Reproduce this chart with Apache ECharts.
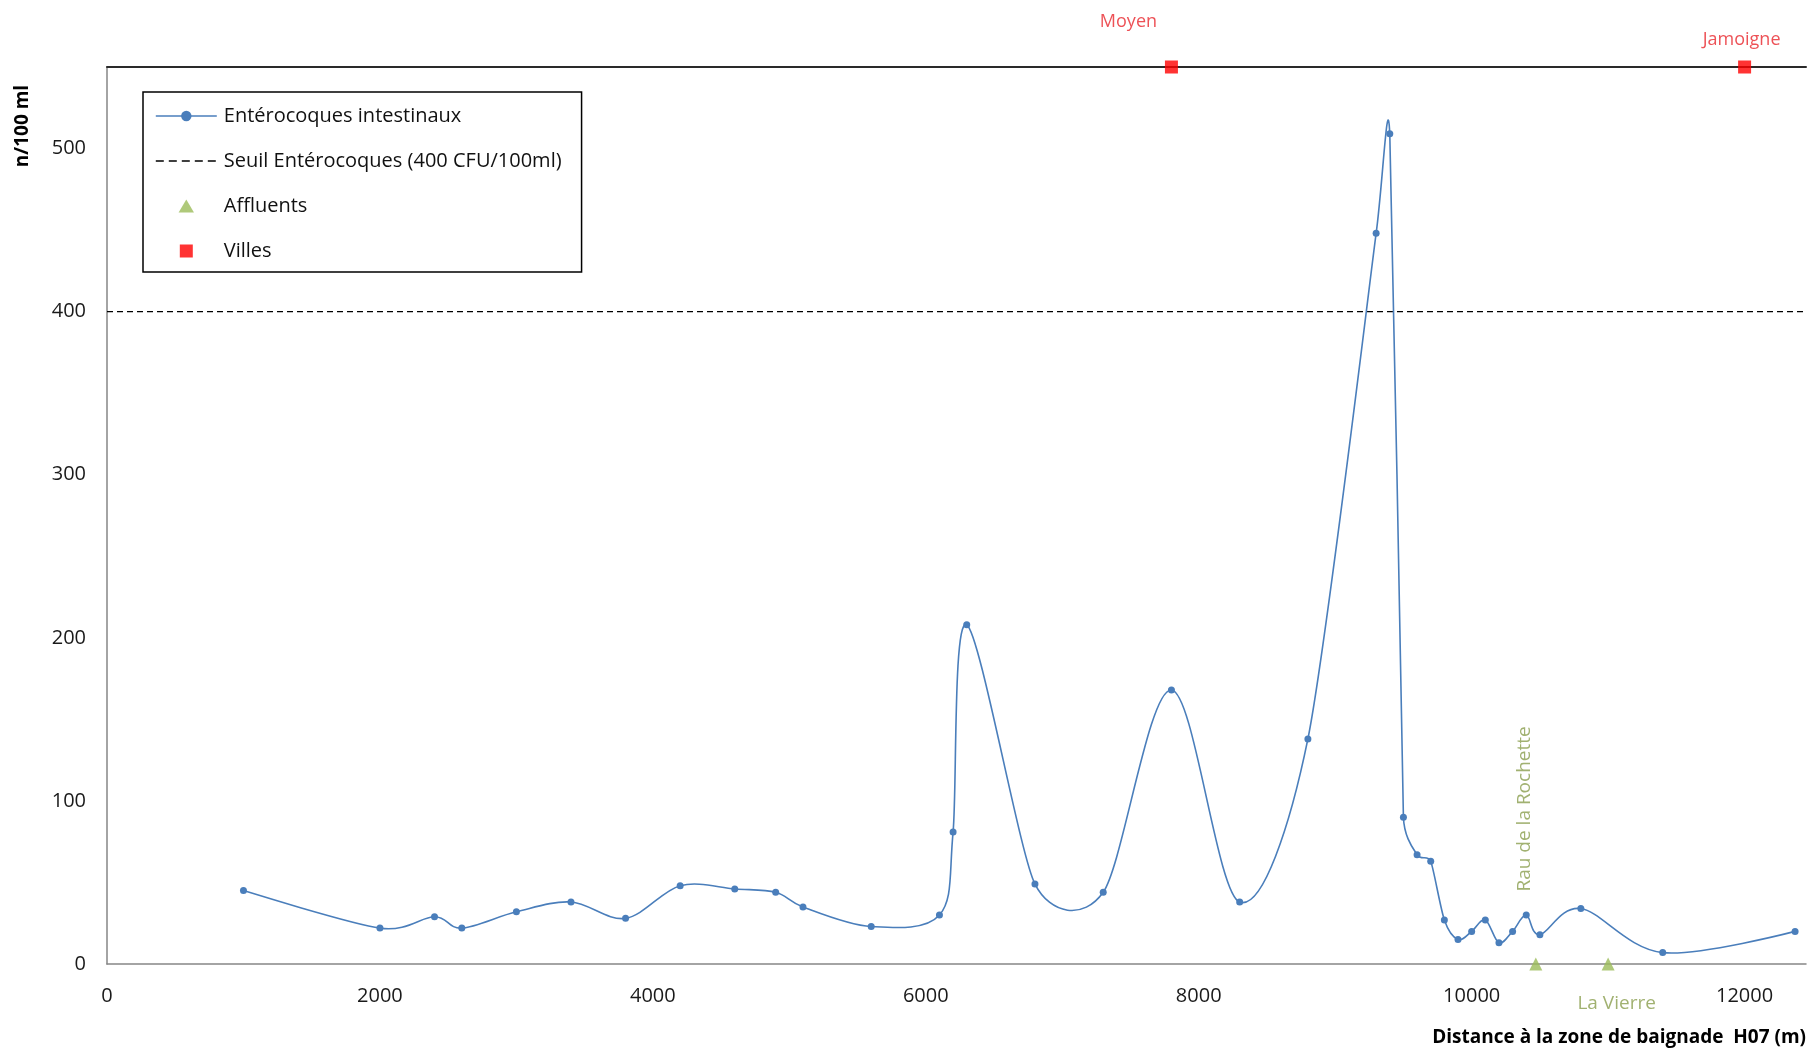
<!DOCTYPE html>
<html>
<head>
<meta charset="utf-8">
<script src="https://cdn.jsdelivr.net/npm/echarts@6/dist/echarts.min.js"></script>
<style>
  html, body { margin: 0; padding: 0; background: #ffffff; }
  #chart { width: 1809px; height: 1058px; }
</style>
</head>
<body>
<div id="chart"></div>
<script>
// Distance from bathing zone H07 (m) and intestinal enterococci (n/100 ml)
const distances = [1000, 2000, 2400, 2600, 3000, 3400, 3800, 4200, 4600, 4900, 5100, 5600,
  6100, 6200, 6300, 6800, 7300, 7800, 8300, 8800, 9300, 9400, 9500, 9600, 9700, 9800,
  9900, 10000, 10100, 10200, 10300, 10400, 10500, 10800, 11400, 12370];
const enterocoques = [45, 22, 29, 22, 32, 38, 28, 48, 46, 44, 35, 23,
  30, 81, 208, 49, 44, 168, 38, 138, 448, 509, 90, 67, 63, 27,
  15, 20, 27, 13, 20, 30, 18, 34, 7, 20];

// Regulatory threshold
const seuil = 400;

// Tributaries (on the x axis) and towns (at the top of the plot)
const affluentNames = ['Rau de la Rochette', 'La Vierre'];
const affluentDistances = [10470, 11000];
const villeNames = ['Moyen', 'Jamoigne'];
const villeDistances = [7800, 12000];

// Axis ranges and tick steps
const xMin = 0, xMax = 12450, xStep = 2000;
const yMin = 0, yMax = 550, yStep = 100, yLabelMax = 500;

const seriesNames = ['Entérocoques intestinaux', 'Seuil Entérocoques (400 CFU/100ml)', 'Affluents', 'Villes'];

const FONT = '"Open Sans", "Noto Sans", sans-serif';
const BLUE = '#4a7ebb';
const GREEN = '#9bbb59';
const GREEN_TEXT = '#8a9e4e';
const RED = '#ff0000';
const LINE_W = 1.6;
const DASH = [6, 4];

const chart = echarts.init(document.getElementById('chart'), null, { renderer: 'canvas' });

const mainData = distances.map((d, i) => [d, enterocoques[i]]);
const seuilData = [[xMin, seuil], [xMax, seuil]];

// Spreadsheet-style smoothed curve: cubic Bezier segments whose control arms
// follow the neighbour chord (1/6 of its length), capped at half of each
// adjacent segment so steep spikes do not balloon.
function controlArm(pts, i) {
  const n = pts.length;
  const p = pts[i];
  const prev = pts[Math.max(i - 1, 0)];
  const next = pts[Math.min(i + 1, n - 1)];
  const vx = next[0] - prev[0], vy = next[1] - prev[1];
  const d02 = Math.hypot(vx, vy);
  if (d02 === 0) return [0, 0];
  const d01 = Math.hypot(p[0] - prev[0], p[1] - prev[1]);
  const d12 = Math.hypot(next[0] - p[0], next[1] - p[1]);
  const arm = Math.min(d02 / 6, d01 / 2, d12 / 2);
  return [vx / d02 * arm, vy / d02 * arm];
}

function renderSmoothSegment(params, api) {
  const i = params.dataIndex;
  if (i >= mainData.length - 1) return null;
  const pts = mainData.map(p => api.coord(p));
  const a0 = controlArm(pts, i);
  const a1 = controlArm(pts, i + 1);
  const p0 = pts[i], p1 = pts[i + 1];
  return {
    type: 'bezierCurve',
    shape: {
      x1: p0[0], y1: p0[1],
      x2: p1[0], y2: p1[1],
      cpx1: p0[0] + a0[0], cpy1: p0[1] + a0[1],
      cpx2: p1[0] - a1[0], cpy2: p1[1] - a1[1]
    },
    style: { stroke: BLUE, lineWidth: LINE_W, fill: 'none' },
    silent: true
  };
}

const affluentLabels = [
  { rotate: 90, position: [-5, -66], align: 'left', verticalAlign: 'middle' },
  { rotate: 0, position: [15, 46], align: 'center', verticalAlign: 'middle' }
];
const affluentData = affluentDistances.map((d, i) => ({
  name: affluentNames[i],
  value: [d, 0],
  label: Object.assign({
    show: true, formatter: '{b}', color: GREEN_TEXT, fontFamily: FONT, fontSize: 19
  }, affluentLabels[i])
}));

const villeOffsets = [[-43, -45], [-3, -27]];
const villeData = villeDistances.map((d, i) => ({
  name: villeNames[i],
  value: [d, yMax],
  label: {
    show: true, formatter: '{b}', position: 'inside', offset: villeOffsets[i],
    align: 'center', verticalAlign: 'middle',
    color: '#e8262c', fontFamily: FONT, fontSize: 18
  }
}));

const option = {
  animation: false,
  backgroundColor: '#ffffff',
  grid: { left: 107, right: 0, top: 67, bottom: 94, containLabel: false },
  legend: {
    orient: 'vertical',
    left: 143, top: 92,
    padding: [13, 20, 10, 12],
    itemGap: 23,
    itemWidth: 61,
    itemHeight: 13,
    borderColor: '#000000',
    borderWidth: 1.5,
    backgroundColor: '#ffffff',
    textStyle: { fontFamily: FONT, fontSize: 20, color: '#111111', padding: [0, 0, 0, 2], lineHeight: 22 },
    data: [
      { name: seriesNames[0], lineStyle: { color: BLUE, width: LINE_W, opacity: 1, type: 'solid' } },
      { name: seriesNames[1], itemStyle: { opacity: 0 },
        lineStyle: { color: '#000000', width: 1.3, opacity: 1, type: [8, 5] } },
      { name: seriesNames[2], icon: 'path://M6.5,0 L13,11 L0,11 Z' },
      { name: seriesNames[3], icon: 'path://M0,0 L12,0 L12,12 L0,12 Z' }
    ]
  },
  xAxis: [{
    type: 'value', min: xMin, max: xMax, interval: xStep,
    axisLine: { show: true, lineStyle: { color: '#868686', width: 1.5 } },
    axisTick: { show: false },
    splitLine: { show: false },
    axisLabel: {
      margin: 22, fontFamily: FONT, fontSize: 20, color: '#1a1a1a',
      formatter: v => (v % xStep === 0 ? String(v) : '')
    }
  }, {
    type: 'value', position: 'top', min: xMin, max: xMax, interval: xStep,
    axisLine: { show: true, onZero: false, lineStyle: { color: '#2a2a2a', width: 2 } },
    axisTick: { show: false },
    axisLabel: { show: false },
    splitLine: { show: false }
  }],
  yAxis: {
    type: 'value', min: yMin, max: yMax, interval: yStep,
    axisLine: { show: true, lineStyle: { color: '#868686', width: 1.5 } },
    axisTick: { show: false },
    splitLine: { show: false },
    axisLabel: {
      margin: 21, fontFamily: FONT, fontSize: 20, color: '#1a1a1a',
      formatter: v => (v <= yLabelMax && v % yStep === 0 ? String(v) : '')
    }
  },
  series: [{
    // markers (and legend entry) of the measurements
    name: seriesNames[0],
    type: 'line',
    data: mainData,
    symbol: 'circle',
    symbolSize: 7,
    itemStyle: { color: BLUE },
    lineStyle: { color: BLUE, width: LINE_W, opacity: 0 },
    z: 4
  }, {
    // smoothed curve through the measurements
    name: seriesNames[0],
    type: 'custom',
    coordinateSystem: 'cartesian2d',
    data: mainData,
    renderItem: renderSmoothSegment,
    clip: false,
    z: 3
  }, {
    name: seriesNames[1],
    type: 'line',
    data: seuilData,
    symbol: 'none',
    itemStyle: { color: '#000000' },
    lineStyle: { color: '#000000', width: 1.3, type: DASH },
    z: 2
  }, {
    name: seriesNames[2],
    type: 'scatter',
    data: affluentData,
    symbol: 'triangle',
    symbolSize: 13,
    clip: false,
    itemStyle: { color: GREEN },
    z: 5
  }, {
    name: seriesNames[3],
    type: 'scatter',
    data: villeData,
    symbol: 'rect',
    symbolSize: 13,
    clip: false,
    itemStyle: { color: RED },
    z: 6
  }],
  graphic: [{
    type: 'text',
    x: 23, y: 126,
    rotation: Math.PI / 2,
    style: {
      text: 'n/100 ml', fontFamily: FONT, fontWeight: 'bold', fontSize: 19,
      fill: '#000000', align: 'center', verticalAlign: 'middle'
    }
  }, {
    type: 'text',
    x: 1806, y: 1038,
    style: {
      text: 'Distance à la zone de baignade  H07 (m)', fontFamily: FONT, fontWeight: 'bold', fontSize: 19,
      fill: '#000000', align: 'right', verticalAlign: 'middle'
    }
  }]
};

chart.setOption(option);
</script>
</body>
</html>
